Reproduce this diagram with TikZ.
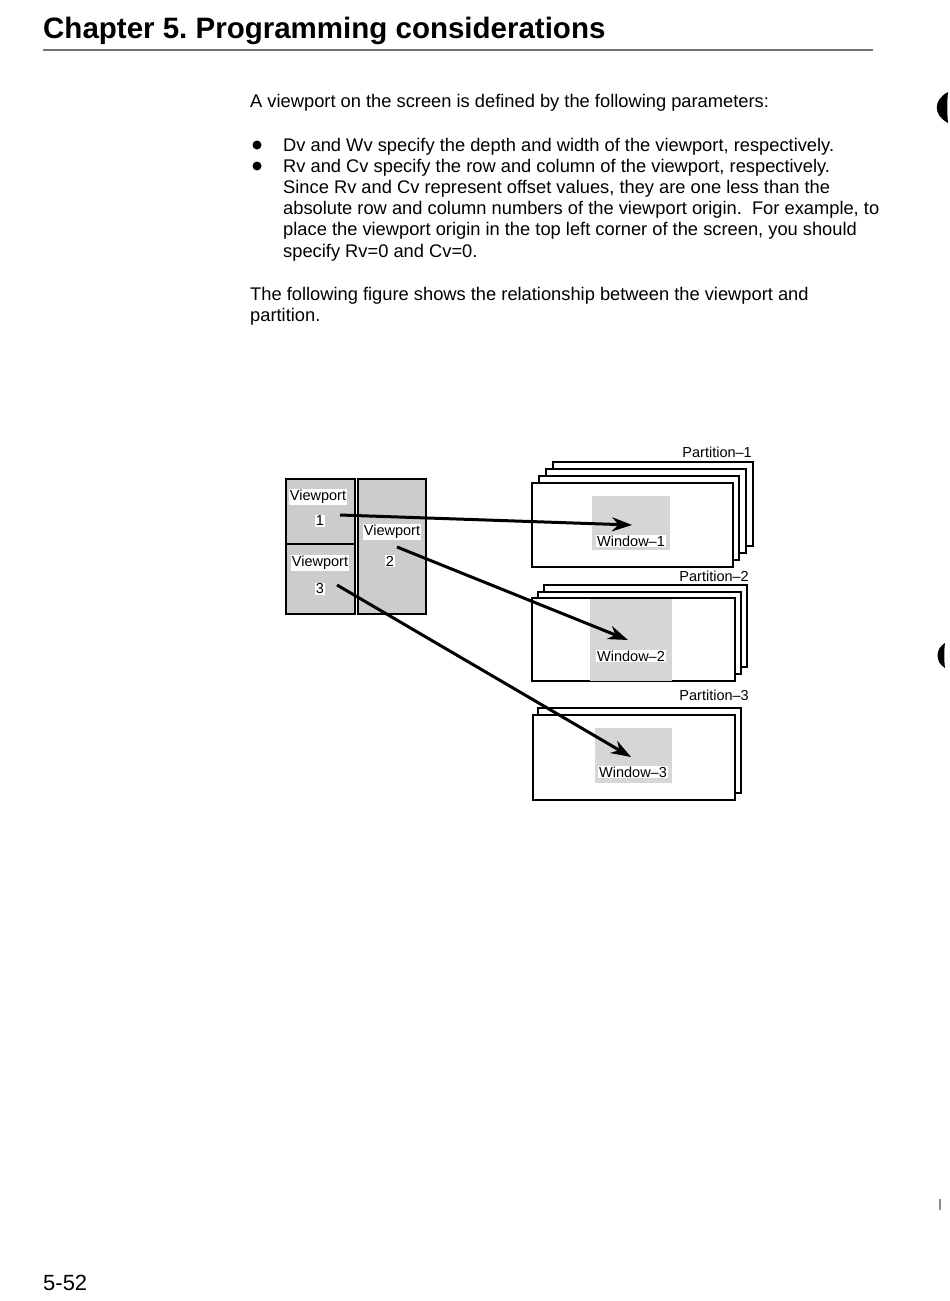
\documentclass[tikz,border=0pt]{standalone}
\usepackage{fontspec}
\setmainfont{Liberation Sans}
\usetikzlibrary{arrows.meta}
\frenchspacing

\tikzset{
  body/.style={anchor=base west, inner sep=0pt, font=\fontsize{18.3}{21}\selectfont},
  lbl/.style={font=\fontsize{14.5}{16}\selectfont, fill=white, inner sep=1pt},
  partlbl/.style={anchor=east, inner sep=0pt, font=\fontsize{14.5}{16}\selectfont},
  pane/.style={draw, line width=1.6pt, fill=black!20, anchor=north west, inner sep=0pt},
  sheet/.style={draw, line width=1.4pt, fill=white},
  winarea/.style={fill=black!16, anchor=north west, inner sep=0pt},
  dot/.style={circle, fill, inner sep=0pt, minimum size=9pt},
  link/.style={line width=3pt, -{Stealth[length=20pt,width=14pt]}},
}

\begin{document}
\begin{tikzpicture}[x=1pt,y=-1pt]
    \useasboundingbox[fill=white] (0,0) rectangle (950,1301);

    % heading
    \node[anchor=base west, inner sep=0pt, font=\fontsize{29.5}{32}\selectfont\bfseries] (title) at (43,38) {Chapter 5. Programming considerations};
    \draw[black!55, line width=1.2pt] (43,50) -- (873,50);

    % text
    \node[body] (intro) at (250,107) {A viewport on the screen is defined by the following parameters:};
    \node[dot] (b1) at (257,145) {};
    \node[dot] (b2) at (257,166) {};
    \node[body] (l1) at (283,151) {Dv and Wv specify the depth and width of the viewport, respectively.};
    \node[body] (l2) at (283,172) {Rv and Cv specify the row and column of the viewport, respectively.};
    \node[body] (l3) at (283,193) {Since Rv and Cv represent offset values, they are one less than the};
    \node[body] (l4) at (283,214) {absolute row and column numbers of the viewport origin.\ \ For example, to};
    \node[body] (l5) at (283,235) {place the viewport origin in the top left corner of the screen, you should};
    \node[body] (l6) at (283,257) {specify Rv=0 and Cv=0.};
    \node[body] (f1) at (250,300) {The following figure shows the relationship between the viewport and};
    \node[body] (f2) at (250,321) {partition.};

    % screen with viewports
    \node[pane, minimum width=69pt, minimum height=65pt] (vp1) at (285,478) {};
    \node[pane, minimum width=69pt, minimum height=70pt] (vp3) at (285,543) {};
    \node[pane, minimum width=68pt, minimum height=135pt] (vp2) at (357,478) {};
    \node[lbl] (vp1name) at (318,497) {Viewport};
    \node[lbl] (vp1num) at (320,521) {1};
    \node[lbl] (vp2name) at (392,532) {Viewport};
    \node[lbl] (vp2num) at (390,561) {2};
    \node[lbl] (vp3name) at (320,563) {Viewport};
    \node[lbl] (vp3num) at (320,589) {3};

    % partition 1
    \draw[sheet] (553,462) rectangle (753,546);
    \draw[sheet] (546,469) rectangle (746,553);
    \draw[sheet] (539,476) rectangle (739,560);
    \draw[sheet] (532,483) rectangle (733,567);
    \node[partlbl] (part1) at (752,452) {Partition--1};
    \node[winarea, minimum width=78pt, minimum height=54pt] (win1) at (592,496) {};
    \node[lbl] (win1name) at (631,541) {Window--1};

    % partition 2
    \draw[sheet] (544,585) rectangle (747,667);
    \draw[sheet] (538,592) rectangle (741,674);
    \draw[sheet] (532,598) rectangle (735,681);
    \node[partlbl] (part2) at (749,576) {Partition--2};
    \node[winarea, minimum width=82pt, minimum height=82pt] (win2) at (590,599) {};
    \node[lbl] (win2name) at (631,656) {Window--2};

    % partition 3
    \draw[sheet] (538,708) rectangle (741,793);
    \draw[sheet] (533,715) rectangle (735,800);
    \node[partlbl] (part3) at (749,695) {Partition--3};
    \node[winarea, minimum width=77pt, minimum height=55pt] (win3) at (595,728) {};
    \node[lbl] (win3name) at (633,772) {Window--3};

    % viewport -> window
    \coordinate (s1) at (340,515);
    \coordinate (s2) at (397,547);
    \coordinate (s3) at (337,585);
    \coordinate (t1) at (632,525);
    \coordinate (t2) at (628,640);
    \coordinate (t3) at (631,757);
    \draw[link] (s1) -- (t1);
    \draw[link] (s2) -- (t2);
    \draw[link] (s3) -- (t3);

    % page number
    \node[anchor=base west, inner sep=0pt, font=\fontsize{22}{24}\selectfont] (pageno) at (43,1290) {5-52};

    % marks at the right edge
    \fill (948,92) .. controls (933,100) and (933,115) .. (948,123) .. controls (947,113) and (947,102) .. (948,92) -- cycle;
    \fill (945,643) .. controls (935,649) and (935,662) .. (945,668) .. controls (944,660) and (944,651) .. (945,643) -- cycle;
    \draw[black!45, line width=1.5pt] (940,1199) -- (940,1210);
\end{tikzpicture}
\end{document}
